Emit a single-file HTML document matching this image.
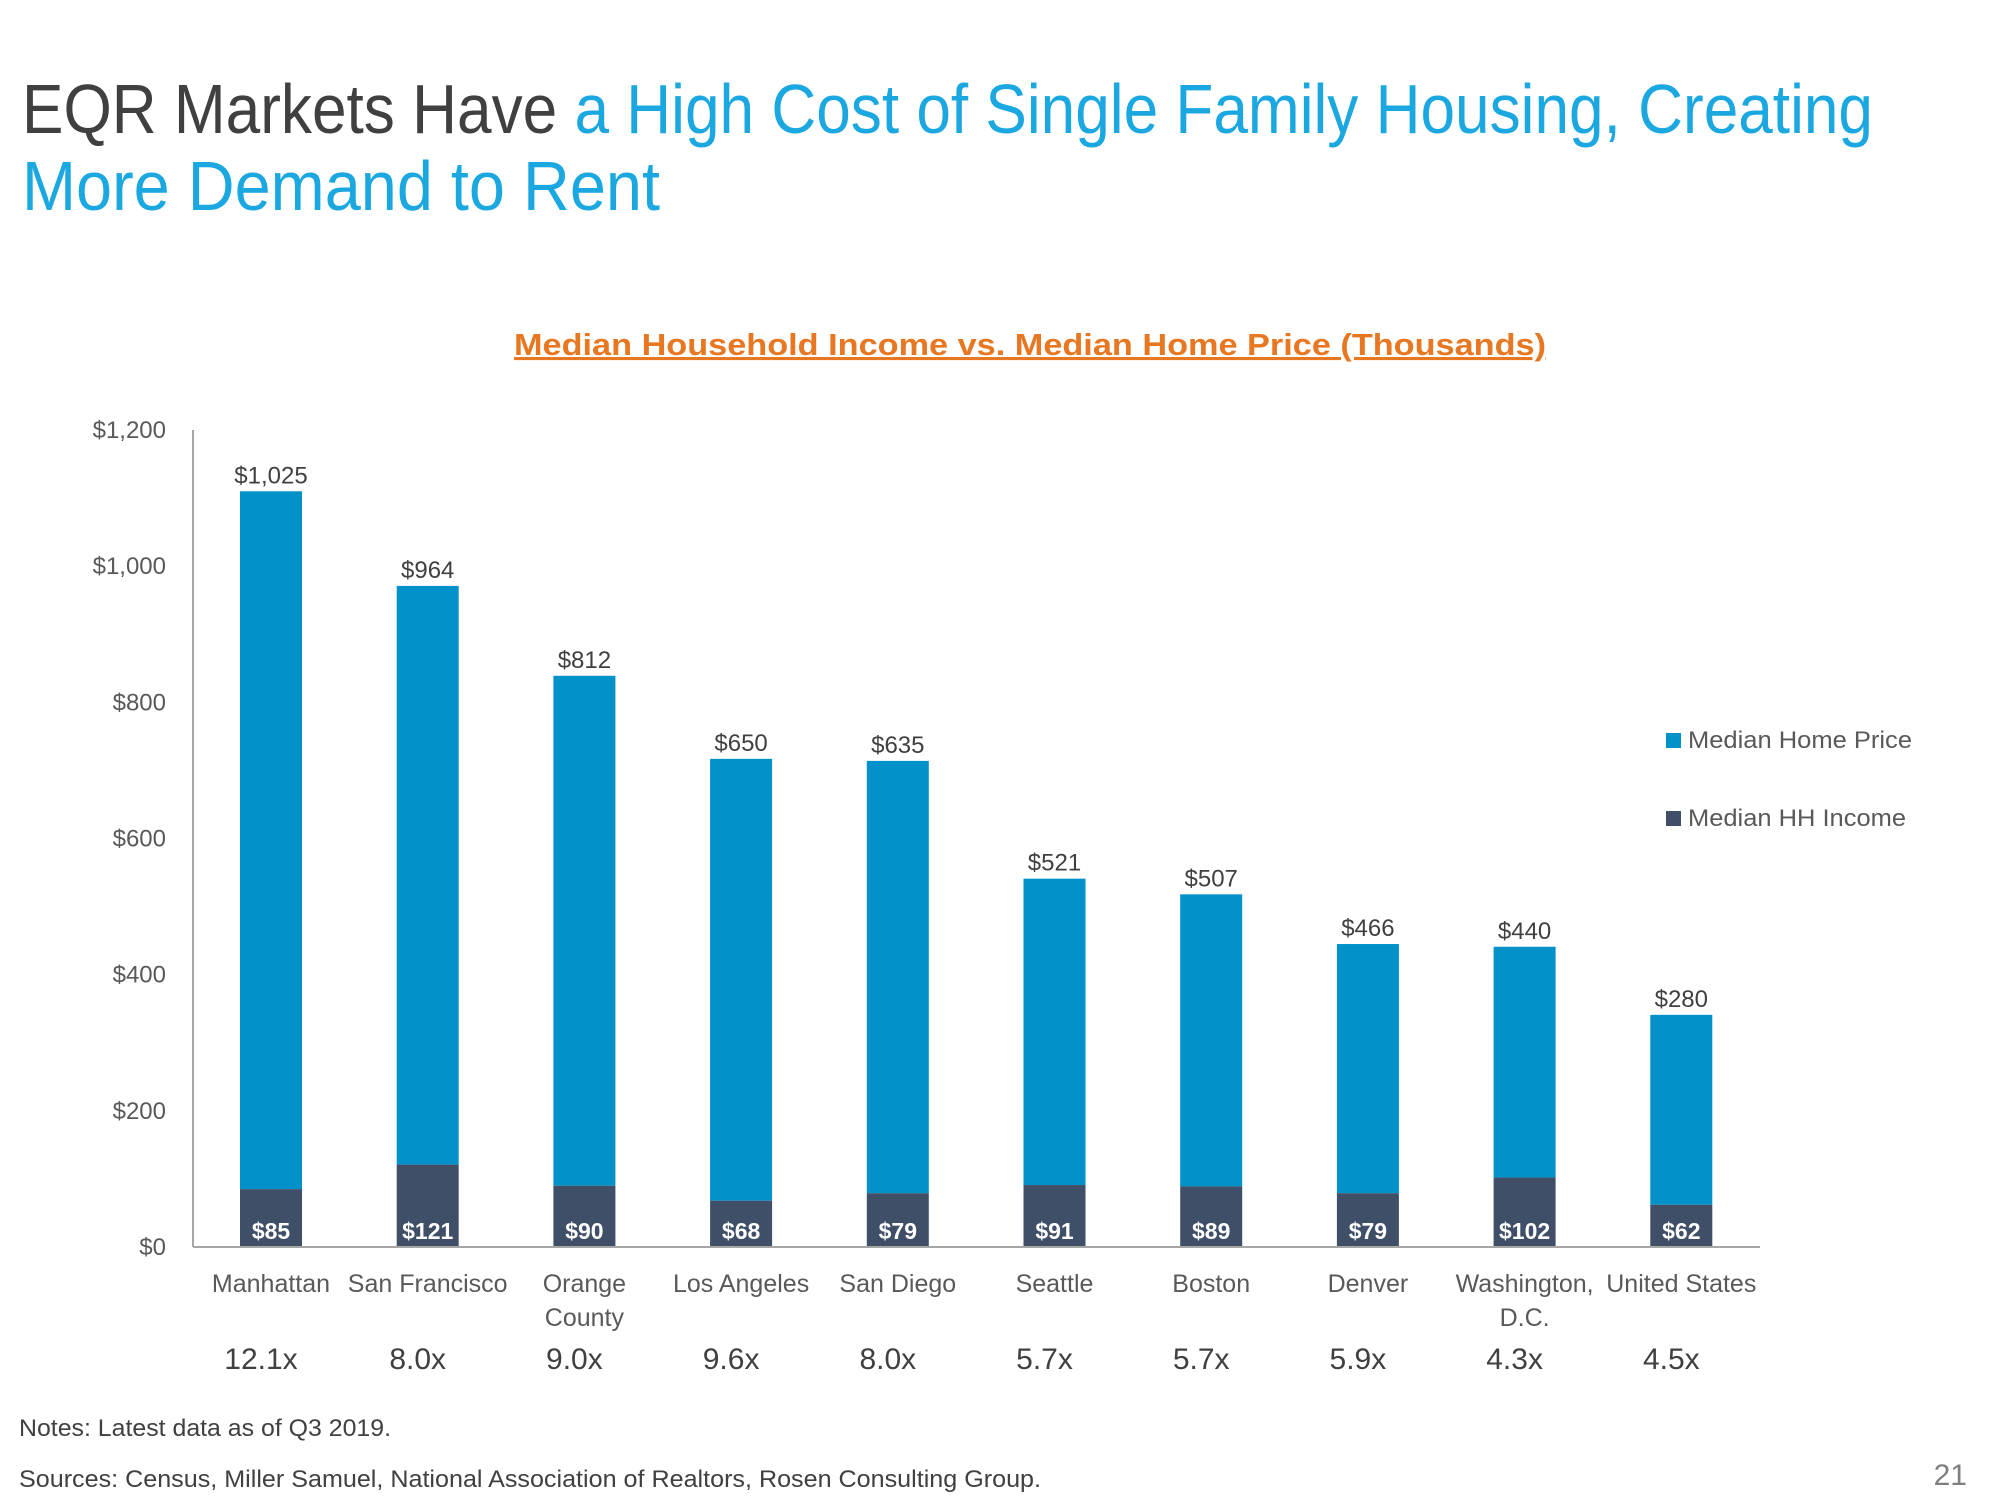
<!DOCTYPE html>
<html><head><meta charset="utf-8"><style>
html,body{margin:0;padding:0;background:#fff;}
svg{display:block;font-family:"Liberation Sans",sans-serif;}
</style></head><body>
<svg id="chart" width="2000" height="1500" viewBox="0 0 2000 1500" xmlns="http://www.w3.org/2000/svg">
<text x="22" y="133" font-size="70" textLength="1851" lengthAdjust="spacingAndGlyphs"><tspan fill="#404040">EQR Markets Have </tspan><tspan fill="#1ba7e0">a High Cost of Single Family Housing, Creating</tspan></text>
<text x="22" y="210" font-size="70" fill="#1ba7e0" textLength="638" lengthAdjust="spacingAndGlyphs">More Demand to Rent</text>
<text x="514" y="355" font-size="31" font-weight="bold" fill="#e87722" textLength="1032" lengthAdjust="spacingAndGlyphs" text-decoration="underline">Median Household Income vs. Median Home Price (Thousands)</text>
<g id="plot"></g>
<rect x="1666" y="733" width="15" height="15" fill="#0391c9"/>
<text x="1688" y="748" font-size="24" fill="#595959" textLength="224" lengthAdjust="spacingAndGlyphs">Median Home Price</text>
<rect x="1666" y="811" width="15" height="15" fill="#404f68"/>
<text x="1688" y="826" font-size="24" fill="#595959" textLength="218" lengthAdjust="spacingAndGlyphs">Median HH Income</text>
<text x="19" y="1436" font-size="24" fill="#404040" textLength="372" lengthAdjust="spacingAndGlyphs">Notes: Latest data as of Q3 2019.</text>
<text x="19" y="1487" font-size="24" fill="#404040" textLength="1022" lengthAdjust="spacingAndGlyphs">Sources: Census, Miller Samuel, National Association of Realtors, Rosen Consulting Group.</text>
<text x="1967" y="1485" font-size="30" fill="#7f7f7f" text-anchor="end">21</text>
</svg>
<script>
const categories = [["Manhattan"],["San Francisco"],["Orange","County"],["Los Angeles"],["San Diego"],["Seattle"],["Boston"],["Denver"],["Washington,","D.C."],["United States"]];
const homePrice = [1025,964,812,650,635,521,507,466,440,280];
const homePriceBar = [1025,850,749,649,635,450,429,366,339,279];
const hhIncome = [85,121,90,68,79,91,89,79,102,62];
const multiples = ["12.1x","8.0x","9.0x","9.6x","8.0x","5.7x","5.7x","5.9x","4.3x","4.5x"];
const yTicks = [0,200,400,600,800,1000,1200];

const NS = "http://www.w3.org/2000/svg";
const plot = document.getElementById('plot');
const x0 = 193, x1 = 1760, yBase = 1247, yTop = 430, yMax = 1200;
const step = 156.7, first = 271, bw = 62;
function yScale(v){ return yBase - (v / yMax) * (yBase - yTop); }
function xCenter(i){ return first + i * step; }
function mk(tag, attrs, txt){
  const e = document.createElementNS(NS, tag);
  for (const k in attrs) e.setAttribute(k, attrs[k]);
  if (txt !== undefined) e.textContent = txt;
  plot.appendChild(e);
  return e;
}
function fmt(v){ return '$' + v.toLocaleString('en-US'); }

yTicks.forEach(t => {
  const e = mk('text', {x: 166, y: yScale(t) + 8, 'font-size': 24, fill: '#595959', 'text-anchor': 'end'}, fmt(t));
  
  
});

categories.forEach((c, i) => {
  const cx = xCenter(i);
  const inc = hhIncome[i];
  const top = yScale(inc + homePriceBar[i]), mid = yScale(inc);
  const b1 = mk('rect', {x: cx - bw/2, y: top, width: bw, height: mid - top, fill: '#0391c9'});
  
  
  const b2 = mk('rect', {x: cx - bw/2, y: mid, width: bw, height: yBase - mid, fill: '#404f68'});
  
  
  const l1 = mk('text', {x: cx, y: top - 8, 'font-size': 24, fill: '#404040', 'text-anchor': 'middle'}, fmt(homePrice[i]));
  
  
  const l2 = mk('text', {x: cx, y: yBase - 8, 'font-size': 23, 'font-weight': 'bold', fill: '#fff', 'text-anchor': 'middle'}, fmt(inc));
  
  
  c.forEach((line, j) => {
    const t = mk('text', {x: cx, y: 1292 + j * 34, 'font-size': 25, fill: '#595959', 'text-anchor': 'middle'}, line);
    
    
  });
  const m = mk('text', {x: cx - 10, y: 1369, 'font-size': 30, fill: '#404040', 'text-anchor': 'middle'}, multiples[i]);
  
  
});

const ax = mk('line', {x1: x0, y1: yTop, x2: x0, y2: yBase, stroke: '#a6a6a6', 'stroke-width': 2});


const bx = mk('line', {x1: x0, y1: yBase, x2: x1, y2: yBase, stroke: '#a6a6a6', 'stroke-width': 2});


</script>
</body></html>
